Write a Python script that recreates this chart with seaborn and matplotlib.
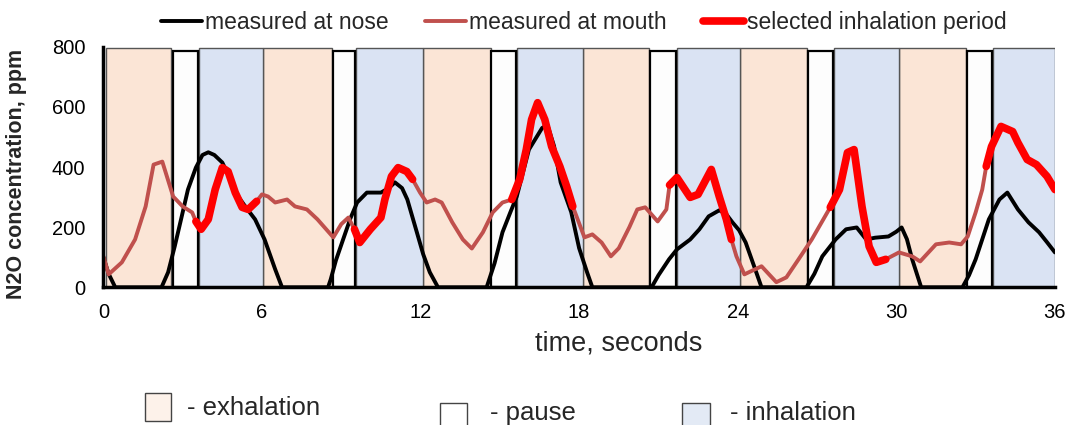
import numpy as np
import pandas as pd
import matplotlib
matplotlib.use("Agg")
import matplotlib.pyplot as plt
import seaborn as sns
from matplotlib.lines import Line2D
from matplotlib.patches import Rectangle

# breathing phases, seconds
exhale_start = [0.1, 6.05, 12.1, 18.13, 24.1, 30.11]
exhale_end = [2.57, 8.65, 14.66, 20.66, 26.63, 32.64]
pause_start = [2.64, 8.69, 14.68, 20.68, 26.66, 32.66]
pause_end = [3.57, 9.52, 15.62, 21.68, 27.61, 33.62]
inhale_start = [3.62, 9.56, 15.66, 21.72, 27.65, 33.66]
inhale_end = [6.05, 12.1, 18.13, 24.1, 30.11, 36.0]

# measured at nose
nose_t = [0, 0.2, 0.45, 2.2, 2.45, 2.7, 2.95, 3.2, 3.5, 3.75, 3.97, 4.2, 4.5, 4.8,
          5.1, 5.4, 5.74, 6.1, 6.5, 6.76, 8.5, 8.6, 8.8, 9.07, 9.35, 9.6, 9.97, 10.5,
          10.8, 11.03, 11.3, 11.5, 11.86, 12.1, 12.35, 12.66, 14.5, 14.8, 15.1, 15.4,
          15.64, 16.1, 16.6, 16.8, 17.05, 17.3, 17.7, 18.0, 18.3, 18.5, 20.74, 21.0,
          21.4, 21.7, 22.2, 22.55, 22.9, 23.3, 23.55, 23.8, 24.05, 24.3, 24.7, 24.9,
          26.6, 26.9, 27.2, 27.7, 28.1, 28.5, 28.86, 29.2, 29.7, 30.0, 30.2, 30.4,
          30.6, 30.94, 32.5, 32.75, 33.0, 33.5, 33.9, 34.2, 34.6, 35.0, 35.4, 35.7, 36.0]
nose_ppm = [100, 45, 0, 0, 50, 136, 230, 325, 398, 440, 449, 440, 415, 360,
            302, 265, 226, 159, 60, 0, 0, 26, 90, 159, 230, 282, 315, 315,
            330, 349, 330, 292, 183, 110, 50, 0, 0, 80, 183, 250,
            302, 458, 530, 540, 470, 349, 250, 130, 50, 0, 0, 40,
            93, 126, 159, 193, 236, 256, 245, 216, 190, 149, 50, 0,
            0, 45, 103, 159, 193, 199, 159, 165, 169, 185, 199, 160,
            93, 0, 0, 40, 93, 226, 292, 315, 259, 216, 183, 150, 116]

# measured at mouth
mouth_t = [0, 0.2, 0.7, 1.2, 1.6, 1.9, 2.23, 2.64, 3.0, 3.36, 3.5, 3.7, 3.97, 4.23,
           4.5, 4.72, 4.99, 5.25, 5.48, 5.8, 6.0, 6.23, 6.5, 6.95, 7.25, 7.7, 8.1,
           8.7, 9.0, 9.27, 9.5, 9.7, 10.1, 10.5, 10.65, 10.9, 11.15, 11.48, 11.7,
           11.98, 12.23, 12.55, 12.8, 13.2, 13.6, 13.94, 14.36, 14.73, 15.1, 15.45,
           15.75, 16.0, 16.2, 16.43, 16.7, 16.96, 17.27, 17.53, 17.76, 18.2, 18.5,
           18.85, 19.2, 19.5, 19.9, 20.2, 20.5, 20.97, 21.3, 21.42, 21.7, 22.2, 22.5,
           23.0, 23.3, 23.57, 23.76, 23.95, 24.25, 24.9, 25.46, 25.84, 26.3, 26.8,
           27.5, 27.85, 28.15, 28.4, 28.7, 28.97, 29.24, 29.6, 30.1, 30.6, 30.9,
           31.5, 32.0, 32.45, 32.7, 33.0, 33.25, 33.4, 33.6, 33.96, 34.4, 34.6,
           34.95, 35.3, 35.7, 36.0]
mouth_ppm = [103, 43, 83, 159, 269, 408, 418, 302, 269, 249, 219, 193, 226, 325,
             398, 385, 315, 266, 259, 286, 309, 302, 282, 292, 269, 259, 226,
             166, 210, 232, 193, 149, 193, 232, 292, 369, 398, 385, 359,
             315, 282, 292, 282, 216, 159, 129, 183, 249, 282, 292,
             359, 458, 558, 614, 558, 468, 402, 335, 269, 166, 176,
             149, 103, 130, 200, 259, 266, 219, 259, 340, 365, 299, 309,
             392, 302, 226, 159, 103, 43, 70, 17, 33, 93, 159,
             266, 325, 448, 458, 269, 136, 83, 93, 116, 103, 86,
             143, 149, 143, 169, 249, 325, 402, 468, 535, 518, 481,
             425, 408, 369, 325]

# selected inhalation windows (start, end), seconds
sel_start = [3.5, 9.5, 15.45, 21.42, 27.5, 33.4]
sel_end = [5.8, 11.7, 17.76, 23.76, 29.6, 36.0]

sns.set_style("white")
plt.rcParams["font.family"] = ["Liberation Sans", "DejaVu Sans"]

nose = pd.DataFrame({"t": nose_t, "ppm": nose_ppm})
mouth = pd.DataFrame({"t": mouth_t, "ppm": mouth_ppm})
parts = []
for i, (a, b) in enumerate(zip(sel_start, sel_end)):
    seg = mouth[(mouth.t >= a) & (mouth.t <= b)].copy()
    seg["seg"] = i
    parts.append(seg)
selected = pd.concat(parts)

fig = plt.figure(figsize=(10.71, 4.25), dpi=100)
ax = fig.add_axes([0.0965, 0.324, 0.8885, 0.566])

c_exh = "#FBE5D6"
c_inh = "#DAE3F3"
c_pau = "#FDFDFD"
w = np.array(exhale_end) - np.array(exhale_start)
ax.bar(exhale_start, 795, width=w, align="edge", color=c_exh,
       edgecolor="#555555", linewidth=1, zorder=1)
w = np.array(inhale_end) - np.array(inhale_start)
ax.bar(inhale_start, 795, width=w, align="edge", color=c_inh,
       edgecolor="#555555", linewidth=1, zorder=1)
w = np.array(pause_end) - np.array(pause_start)
ax.bar(pause_start, 785, width=w, align="edge", color=c_pau,
       edgecolor="black", linewidth=1.6, zorder=1)

lw_thin = 2.8
lw_red = 5.5
sns.lineplot(data=nose, x="t", y="ppm", color="black", lw=lw_thin,
             sort=False, estimator=None, ax=ax, zorder=3)
sns.lineplot(data=mouth, x="t", y="ppm", color="#C0504D", lw=lw_thin,
             sort=False, estimator=None, ax=ax, zorder=4)
sns.lineplot(data=selected, x="t", y="ppm", units="seg", color="#FF0000", lw=lw_red,
             sort=False, estimator=None, ax=ax, zorder=5)

ax.set_xlim(0, 36)
ax.set_ylim(0, 800)
ax.set_xticks(np.arange(0, 37, 6))
ax.set_yticks(np.arange(0, 801, 200))
for s in ["top", "right"]:
    ax.spines[s].set_visible(False)
for s in ["left", "bottom"]:
    ax.spines[s].set_linewidth(2.5)
    ax.spines[s].set_color("black")
    ax.spines[s].set_zorder(6)
ax.tick_params(axis="x", direction="inout", length=8, width=2, pad=7,
               labelsize=14.5, colors="black")
ax.tick_params(axis="y", direction="out", length=4, width=2, pad=9,
               labelsize=14.5, colors="black")
ax.set_xlabel("time, seconds", fontsize=19.5)
ax.xaxis.set_label_coords(0.542, -0.18)
ax.set_ylabel("N2O concentration, ppm", fontsize=15.5, fontweight="bold")
ax.yaxis.set_label_coords(-0.08, 0.47)

handles = [Line2D([], [], color="black", lw=lw_thin),
           Line2D([], [], color="#C0504D", lw=lw_thin),
           Line2D([], [], color="#FF0000", lw=lw_red)]
labels = ["measured at nose", "measured at mouth", "selected inhalation period"]
fig.legend(handles, labels, loc="center", bbox_to_anchor=(0.545, 0.948), ncol=3,
           frameon=False, fontsize=16.5, handlelength=1.8, handletextpad=0.12,
           columnspacing=1.6)

W, H = 1071.0, 425.0
boxes = [(145, 393, 26, 28, "#FDF2EA", "- exhalation", 187, 408),
         (440, 403, 27, 24, "white", "- pause", 490, 413),
         (682, 403, 28, 24, "#E3EAF5", "- inhalation", 730, 413)]
for x0, y0, bw, bh, fc, txt, tx, ty in boxes:
    fig.add_artist(Rectangle((x0 / W, 1 - (y0 + bh) / H), bw / W, bh / H,
                             transform=fig.transFigure, facecolor=fc,
                             edgecolor="#444444", linewidth=1))
    fig.text(tx / W, 1 - ty / H, txt, fontsize=18.5, va="center", ha="left")

fig.savefig("out.png", dpi=100)
